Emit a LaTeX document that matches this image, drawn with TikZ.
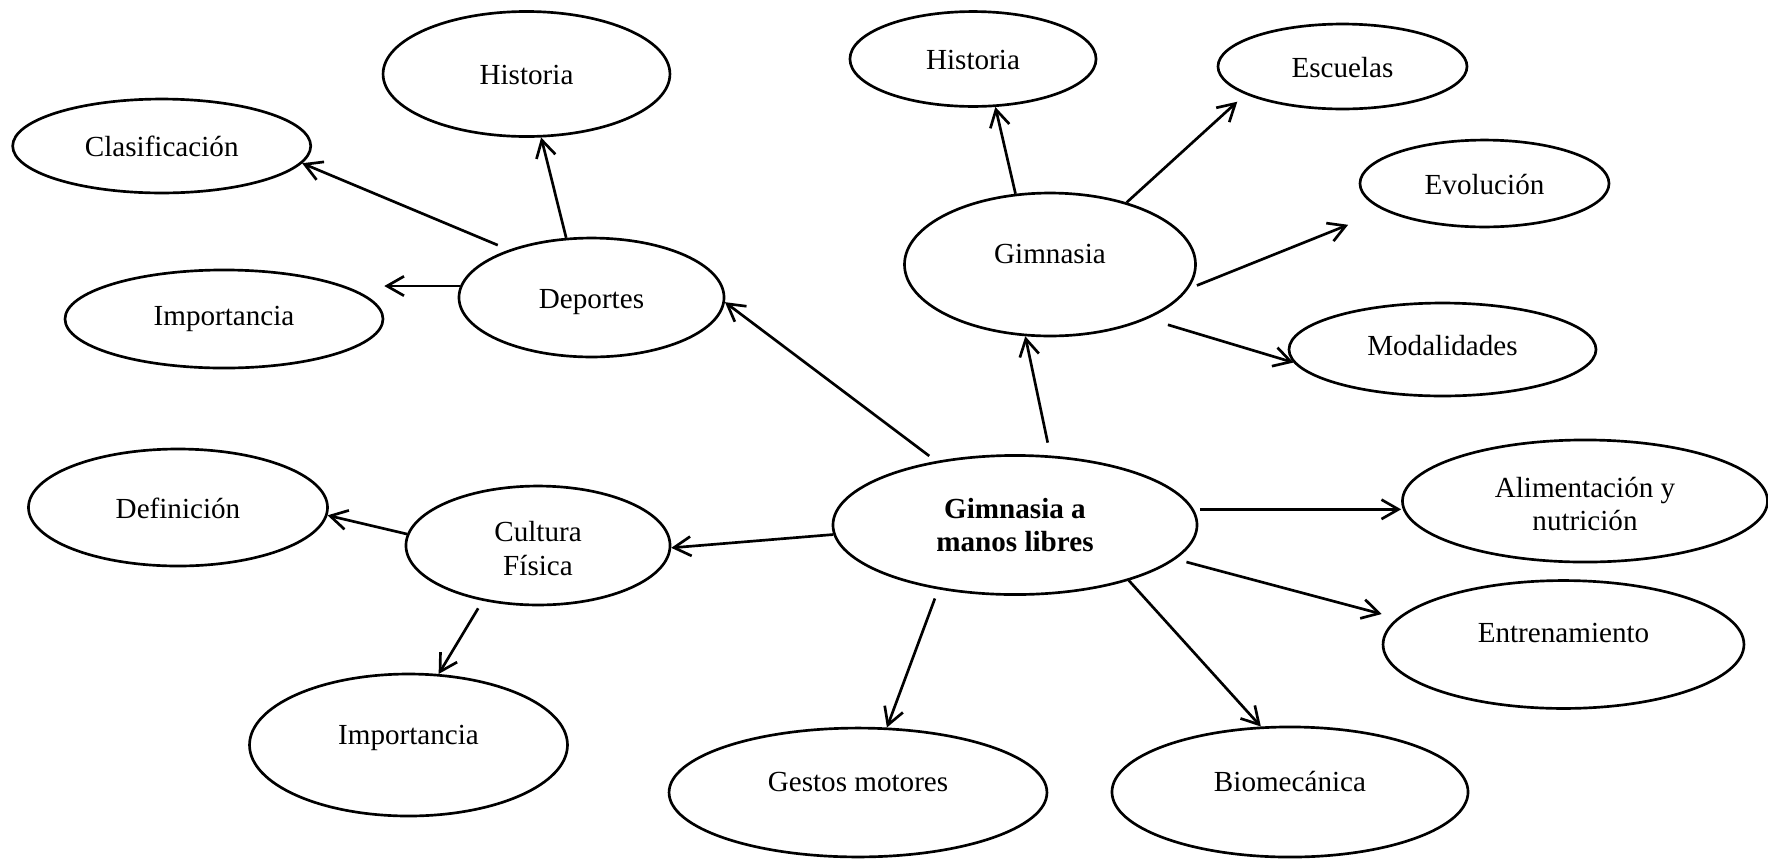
\documentclass[tikz,border=0pt]{standalone}
\usepackage{fontspec}
\setmainfont{Liberation Serif}
\usetikzlibrary{shapes.geometric,arrows.meta}

\begin{document}
\begin{tikzpicture}[x=0.412pt,y=-0.412pt,
  every node/.style={font=\fontsize{12}{13.8}\selectfont},
  bub/.style 2 args={ellipse, draw, line width=1.1pt, inner sep=0pt,
    minimum width=#1pt, minimum height=#2pt},
  lift/.style={text height=11.4pt, text depth=#1},
  lift/.default=2.6pt,
  arr/.style={line width=1.1pt,
    -{Straight Barb[length=7pt,width=8pt,line width=1.1pt]}}
]
\fill[white] (0,0) rectangle (1768,859);
\useasboundingbox (0,0) rectangle (1768,859);

% Deportes branch
\node[bub={109.2}{49.0}, lift] (dep)  at (591.5,297.5) {Deportes};
\node[bub={118.2}{51.5}, lift] (hisD) at (526.5,74)    {Historia};
\node[bub={122.8}{38.7}, lift] (clas) at (161.7,146)   {Clasificación};
\node[bub={131.0}{40.4}, lift=5.9pt] (impD) at (224,319) {Importancia};

% Gimnasia branch
\node[bub={119.9}{58.9}, lift=12pt] (gim) at (1050,264.5) {Gimnasia};
\node[bub={101.4}{39.1}, lift] (hisG) at (973,59)      {Historia};
\node[bub={102.6}{35.0}, lift] (esc)  at (1342.5,66.5) {Escuelas};
\node[bub={102.6}{35.8}, lift] (evo)  at (1484.5,183.5){Evolución};
\node[bub={126.5}{38.3}, lift=6.3pt] (mod) at (1442.5,349.5) {Modalidades};

% Cultura Física branch
\node[bub={108.8}{49.0}, align=center] (cult) at (538,545.5) {\rule{0pt}{11pt}Cultura\\Física};
\node[bub={123.2}{48.2}, lift] (def)  at (178,507.5)   {Definición};
\node[bub={131.0}{58.5}, lift=11.6pt] (impC) at (408.5,745) {Importancia};

% central topic
\node[bub={150.0}{57.3}, align=center, font=\fontsize{12}{13.8}\selectfont\bfseries]
  (gml) at (1015,525) {Gimnasia a\\manos libres};

% remaining topics
\node[bub={150.4}{50.3}, align=center] (ali) at (1585,501) {\rule{0pt}{11pt}Alimentación y\\nutrición};
\node[bub={148.7}{52.7}, lift=12.8pt] (ent) at (1563.5,644.5) {Entrenamiento};
\node[bub={155.7}{53.1}, lift=12.4pt] (ges) at (858,792.5)    {Gestos motores};
\node[bub={146.7}{53.6}, lift=12pt]   (bio) at (1290,792)     {Biomecánica};

% connectors
\draw[arr] (dep.113.2) -- (hisD.283.4);
\draw[arr, shorten <=4.9pt] (dep.150.4) -- (clas.353.1);
\draw[arr] (dep.175.5) -- (dep.175.5 -| impD.east);

\draw[arr, shorten <=3.5pt] (gml.141.1) -- (dep.358.1);
\draw[arr, shorten <=5.4pt] (gml.63.4) -- (gim.251.7);

\draw[arr] (gim.116.2) -- (hisG.295.3);
\draw[arr, shorten >=4.5pt] (gim.39.8) -- (esc.196.3);
\draw[arr, shorten <=3.8pt, shorten >=15.9pt] (gim.350.95) -- (evo.195.6);
\draw[arr, shorten <=8.6pt] (gim.331.9) -- (mod.185.2);

\draw[arr] (gml.183.5) -- (cult.359.35);
\draw[arr] (cult.175.9) -- (def.357.5);
\draw[arr, shorten <=3.6pt] (cult.225.2) -- (impC.67.7);

\draw[arr, shorten <=2.5pt] (gml.5.2) -- (gml.5.2 -| ali.west);
\draw[arr, shorten <=4.6pt, shorten >=6.6pt] (gml.348.6) -- (ent.171.15);
\draw[arr, shorten <=4pt] (gml.220.8) -- (ges.66.5);
\draw[arr] (gml.334.1) -- (bio.114.7);
\end{tikzpicture}
\end{document}
